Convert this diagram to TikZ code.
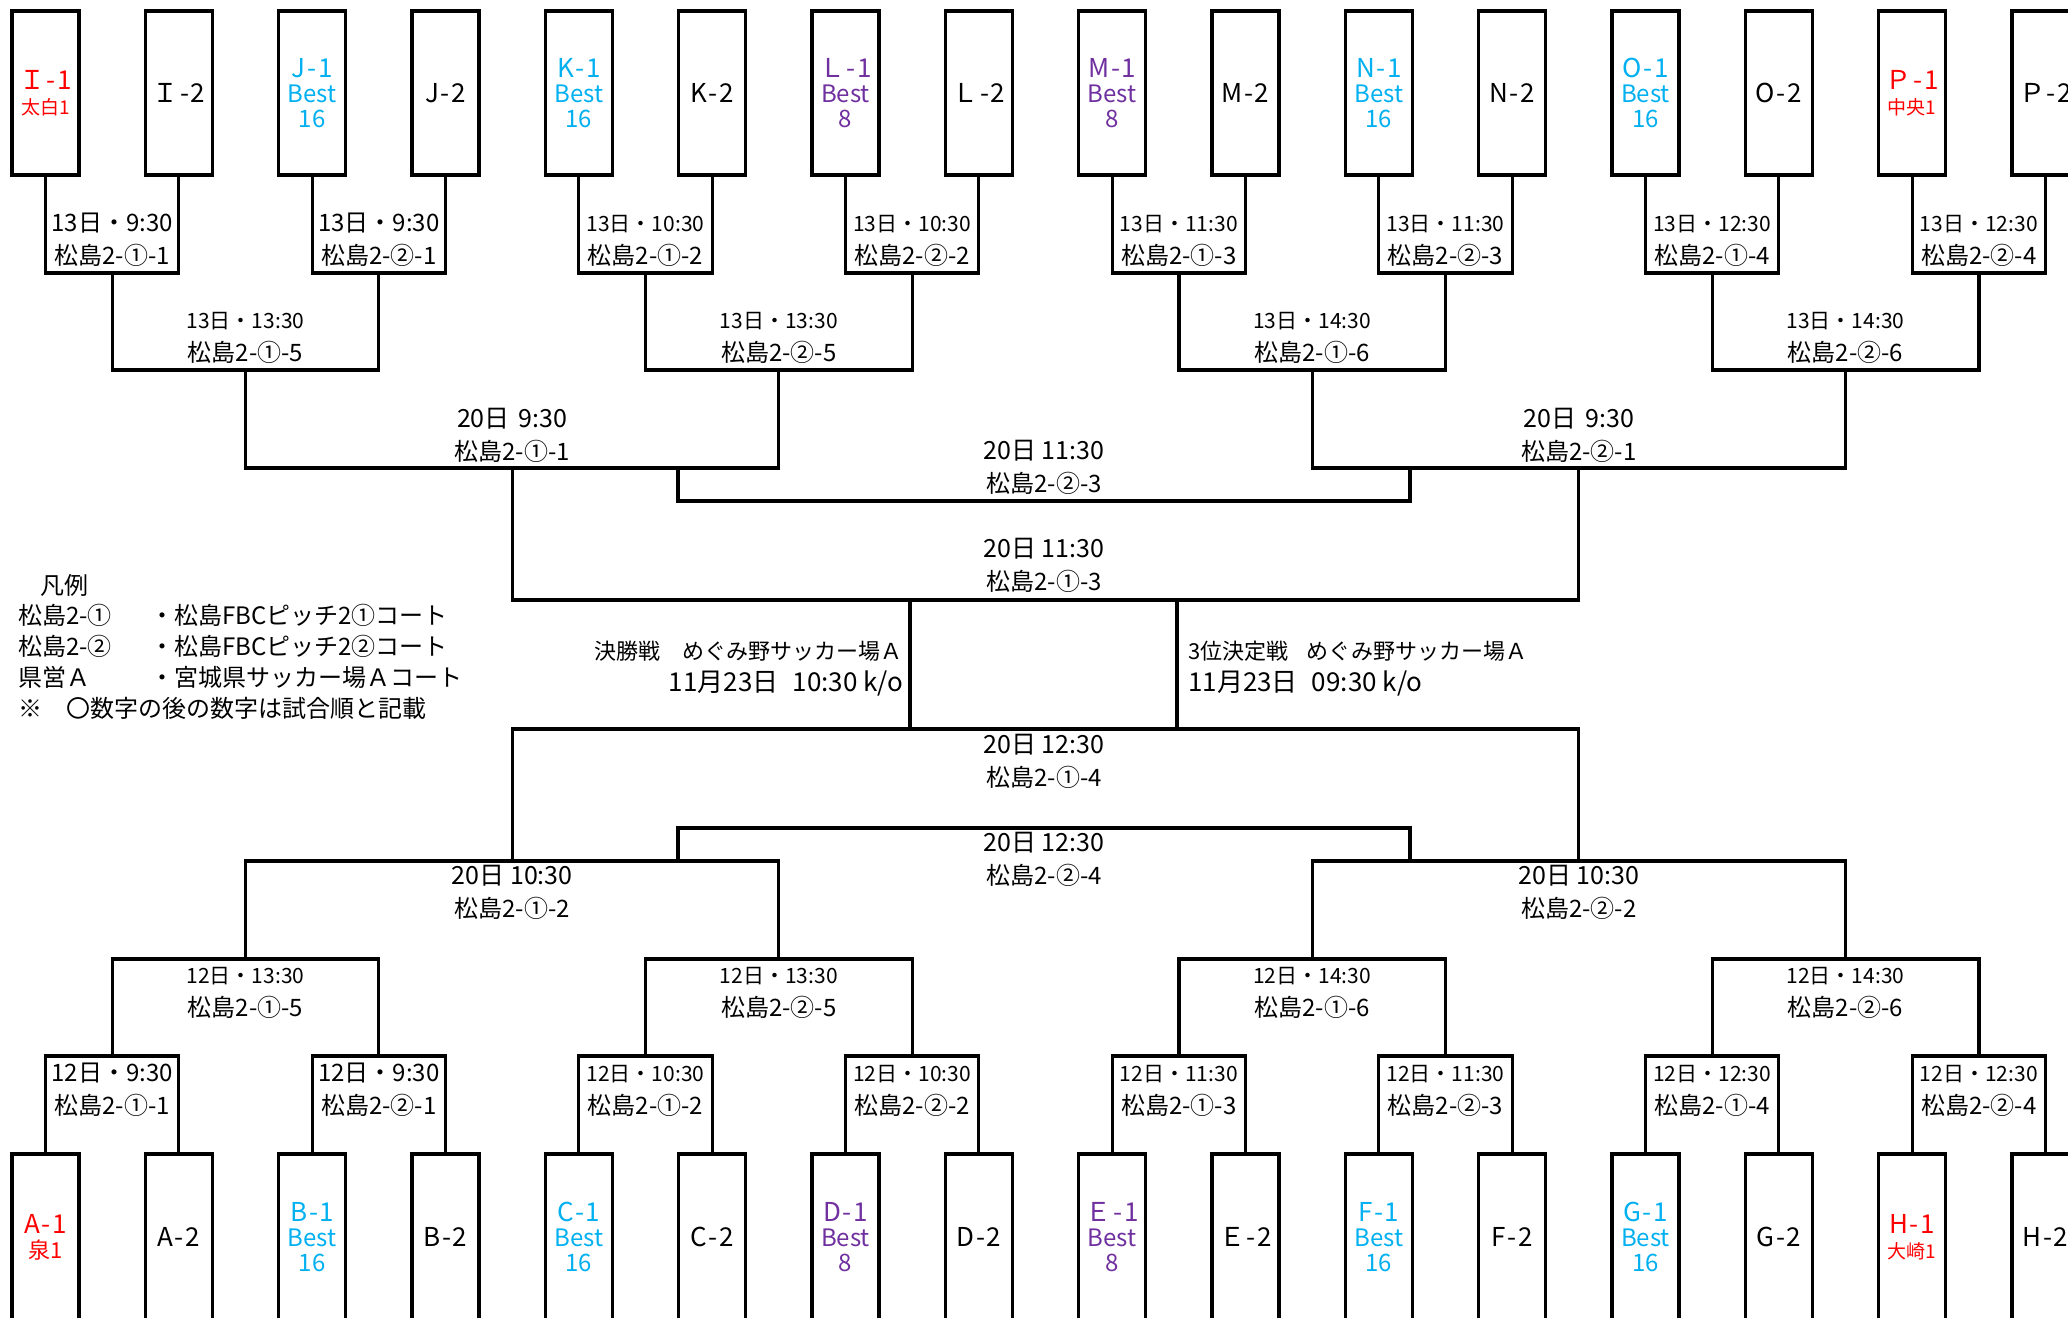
\documentclass[tikz,border=0pt]{standalone}
\usepackage{fontspec}
\setmainfont{Noto Sans CJK JP}
\definecolor{tred}{HTML}{FF0000}
\definecolor{tcyan}{HTML}{00B0F0}
\definecolor{tpurple}{HTML}{7030A0}
\newcommand\myfs[2]{\fontsize{#1}{#2}\selectfont}
\newcommand\hy{\kern1.6pt-\kern1.6pt}
\newcommand\idl[1]{{\myfs{26}{25}#1}}
\newcommand\matchlab[6]{% name, x, baseline, size of line 1, text1, text2
  \node[lab, font=\myfs{#4}{#4}] (#1a) at (#2,#3) {#5};
  \node[lab] (#1b) at (#2,#3+33) {#6};}
\begin{document}
\begin{tikzpicture}[x=1pt,y=-1pt,
  box/.style={draw, line width=3.3pt, minimum width=67pt, minimum height=164pt, inner sep=0pt, align=center, font=\myfs{24}{25}},
  bbox/.style={box, minimum height=166pt},
  rtx/.style={text=tred},
  ctx/.style={text=tcyan},
  ptx/.style={text=tpurple},
  wire/.style={line width=3.3pt, line join=miter},
  lab/.style={inner sep=0pt, anchor=base, font=\myfs{24}{24}},
  leg/.style={inner sep=0pt, anchor=base west, font=\myfs{24}{24}},
  fin/.style={inner sep=0pt, font=\myfs{22}{22}},
  fin2/.style={inner sep=0pt, font=\myfs{26}{26}}]
\useasboundingbox (0,0) rectangle (2068,1317);
\fill[white] (0,0) rectangle (2068,1317);
% ---------- top boxes ----------
\node[box,rtx] (t0) at (45.5,93) {\idl{Ｉ\hy 1}\\{\myfs{19}{25}太白1}};
\node[box] (t1) at (178.8,93) {\idl{Ｉ\hy 2}};
\node[box,ctx] (t2) at (312.2,93) {\idl{J\hy 1}\\Best\\16};
\node[box] (t3) at (445.5,93) {\idl{J\hy 2}};
\node[box,ctx] (t4) at (578.8,93) {\idl{K\hy 1}\\Best\\16};
\node[box] (t5) at (712.2,93) {\idl{K\hy 2}};
\node[box,ptx] (t6) at (845.5,93) {\idl{Ｌ\hy 1}\\Best\\8};
\node[box] (t7) at (978.8,93) {\idl{Ｌ\hy 2}};
\node[box,ptx] (t8) at (1112.2,93) {\idl{M\hy 1}\\Best\\8};
\node[box] (t9) at (1245.5,93) {\idl{M\hy 2}};
\node[box,ctx] (t10) at (1378.8,93) {\idl{N\hy 1}\\Best\\16};
\node[box] (t11) at (1512.2,93) {\idl{N\hy 2}};
\node[box,ctx] (t12) at (1645.5,93) {\idl{O\hy 1}\\Best\\16};
\node[box] (t13) at (1778.8,93) {\idl{O\hy 2}};
\node[box,rtx] (t14) at (1912.2,93) {\idl{Ｐ\hy 1}\\{\myfs{19}{25}中央1}};
\node[box] (t15) at (2045.5,93) {\idl{Ｐ\hy 2}};
% ---------- bottom boxes ----------
\node[bbox,rtx] (b0) at (45.5,1237) {\idl{A\hy 1}\\{\myfs{22}{25}泉1}};
\node[bbox] (b1) at (178.8,1237) {\idl{A\hy 2}};
\node[bbox,ctx] (b2) at (312.2,1237) {\idl{B\hy 1}\\Best\\16};
\node[bbox] (b3) at (445.5,1237) {\idl{B\hy 2}};
\node[bbox,ctx] (b4) at (578.8,1237) {\idl{C\hy 1}\\Best\\16};
\node[bbox] (b5) at (712.2,1237) {\idl{C\hy 2}};
\node[bbox,ptx] (b6) at (845.5,1237) {\idl{D\hy 1}\\Best\\8};
\node[bbox] (b7) at (978.8,1237) {\idl{D\hy 2}};
\node[bbox,ptx] (b8) at (1112.2,1237) {\idl{Ｅ\hy 1}\\Best\\8};
\node[bbox] (b9) at (1245.5,1237) {\idl{Ｅ\hy 2}};
\node[bbox,ctx] (b10) at (1378.8,1237) {\idl{F\hy 1}\\Best\\16};
\node[bbox] (b11) at (1512.2,1237) {\idl{F\hy 2}};
\node[bbox,ctx] (b12) at (1645.5,1237) {\idl{G\hy 1}\\Best\\16};
\node[bbox] (b13) at (1778.8,1237) {\idl{G\hy 2}};
\node[bbox,rtx] (b14) at (1912.2,1237) {\idl{H\hy 1}\\{\myfs{19}{25}大崎1}};
\node[bbox] (b15) at (2045.5,1237) {\idl{H\hy 2}};
% ---------- junction coordinates ----------
\foreach \k in {0,...,7} {
  \coordinate (ta\k) at (112.17+266.667*\k,273);
  \coordinate (ba\k) at (112.17+266.667*\k,1056);
}
\foreach \k in {0,...,3} {
  \coordinate (tb\k) at (245.5+533.333*\k,370);
  \coordinate (bb\k) at (245.5+533.333*\k,959);
}
\coordinate (tc0) at (512.2,468);  \coordinate (tc1) at (1578.8,468);
\coordinate (bc0) at (512.2,861);  \coordinate (bc1) at (1578.8,861);
\coordinate (td) at (1045.5,600);  \coordinate (bd) at (1045.5,729);
\coordinate (t3l) at (678,468);    \coordinate (t3r) at (1410,468);  \coordinate (t3m) at (1044,501);
\coordinate (b3l) at (678,861);    \coordinate (b3r) at (1410,861);  \coordinate (b3m) at (1044,828);
\coordinate (fa) at (910,600);     \coordinate (fb) at (910,729);
\coordinate (ga) at (1177,600);    \coordinate (gb) at (1177,729);
% ---------- wires ----------
\foreach \k in {0,...,7} {
  \pgfmathtruncatemacro\ka{2*\k}
  \pgfmathtruncatemacro\kb{2*\k+1}
  \draw[wire] (t\ka.south) |- (ta\k) -| (t\kb.south);
  \draw[wire] (b\ka.north) |- (ba\k) -| (b\kb.north);
}
\foreach \k in {0,...,3} {
  \pgfmathtruncatemacro\ka{2*\k}
  \pgfmathtruncatemacro\kb{2*\k+1}
  \draw[wire] (ta\ka) |- (tb\k) -| (ta\kb);
  \draw[wire] (ba\ka) |- (bb\k) -| (ba\kb);
}
\draw[wire] (tb0) |- (tc0) -| (tb1);
\draw[wire] (tb2) |- (tc1) -| (tb3);
\draw[wire] (bb0) |- (bc0) -| (bb1);
\draw[wire] (bb2) |- (bc1) -| (bb3);
\draw[wire] (tc0) |- (td) -| (tc1);
\draw[wire] (bc0) |- (bd) -| (bc1);
\draw[wire] (t3l) |- (t3m) -| (t3r);
\draw[wire] (b3l) |- (b3m) -| (b3r);
\draw[wire] (fa) -- (fb);
\draw[wire] (ga) -- (gb);
% ---------- match labels, top ----------
\matchlab{lt0}{112.2}{231}{24}{13日・9:30}{松島2-①-1}
\matchlab{lt1}{378.8}{231}{24}{13日・9:30}{松島2-②-1}
\matchlab{lt2}{645.5}{231}{21}{13日・10:30}{松島2-①-2}
\matchlab{lt3}{912.2}{231}{21}{13日・10:30}{松島2-②-2}
\matchlab{lt4}{1178.8}{231}{21}{13日・11:30}{松島2-①-3}
\matchlab{lt5}{1445.5}{231}{21}{13日・11:30}{松島2-②-3}
\matchlab{lt6}{1712.2}{231}{21}{13日・12:30}{松島2-①-4}
\matchlab{lt7}{1978.8}{231}{21}{13日・12:30}{松島2-②-4}
\matchlab{lu0}{245.5}{328}{21}{13日・13:30}{松島2-①-5}
\matchlab{lu1}{778.8}{328}{21}{13日・13:30}{松島2-②-5}
\matchlab{lu2}{1312.2}{328}{21}{13日・14:30}{松島2-①-6}
\matchlab{lu3}{1845.5}{328}{21}{13日・14:30}{松島2-②-6}
\matchlab{lv0}{512.2}{427}{25}{20日\hspace{9pt}9:30}{松島2-①-1}
\matchlab{lv1}{1578.8}{427}{25}{20日\hspace{9pt}9:30}{松島2-②-1}
\matchlab{lw0}{1044}{459}{25}{20日 11:30}{松島2-②-3}
\matchlab{lx0}{1044}{557}{25}{20日 11:30}{松島2-①-3}
% ---------- match labels, bottom ----------
\matchlab{mx0}{1044}{753}{25}{20日 12:30}{松島2-①-4}
\matchlab{mw0}{1044}{851}{25}{20日 12:30}{松島2-②-4}
\matchlab{mv0}{512.2}{884}{25}{20日 10:30}{松島2-①-2}
\matchlab{mv1}{1578.8}{884}{25}{20日 10:30}{松島2-②-2}
\matchlab{mu0}{245.5}{983}{21}{12日・13:30}{松島2-①-5}
\matchlab{mu1}{778.8}{983}{21}{12日・13:30}{松島2-②-5}
\matchlab{mu2}{1312.2}{983}{21}{12日・14:30}{松島2-①-6}
\matchlab{mu3}{1845.5}{983}{21}{12日・14:30}{松島2-②-6}
\matchlab{mt0}{112.2}{1081}{24}{12日・9:30}{松島2-①-1}
\matchlab{mt1}{378.8}{1081}{24}{12日・9:30}{松島2-②-1}
\matchlab{mt2}{645.5}{1081}{21}{12日・10:30}{松島2-①-2}
\matchlab{mt3}{912.2}{1081}{21}{12日・10:30}{松島2-②-2}
\matchlab{mt4}{1178.8}{1081}{21}{12日・11:30}{松島2-①-3}
\matchlab{mt5}{1445.5}{1081}{21}{12日・11:30}{松島2-②-3}
\matchlab{mt6}{1712.2}{1081}{21}{12日・12:30}{松島2-①-4}
\matchlab{mt7}{1978.8}{1081}{21}{12日・12:30}{松島2-②-4}
% ---------- final / 3rd place ----------
\node[fin, anchor=base east] (f1) at (903,659) {決勝戦　めぐみ野サッカー場Ａ};
\node[fin2, anchor=base east] (f2) at (903,691) {11月23日\hspace{14pt}10:30 k/o};
\node[fin, anchor=base west] (g1) at (1188,659) {3位決定戦\hspace{18pt}めぐみ野サッカー場Ａ};
\node[fin2, anchor=base west] (g2) at (1188,691) {11月23日\hspace{14pt}09:30 k/o};
% ---------- legend ----------
\node[leg] (lg0) at (40,594) {凡例};
\node[leg] (lg1) at (18,624) {松島2-①};
\node[leg] (lg1b) at (150,624) {・松島FBCピッチ2①コート};
\node[leg] (lg2) at (18,655) {松島2-②};
\node[leg] (lg2b) at (150,655) {・松島FBCピッチ2②コート};
\node[leg] (lg3) at (18,686) {県営Ａ};
\node[leg] (lg3b) at (150,686) {・宮城県サッカー場Ａコート};
\node[leg] (lg4) at (18,717) {※　〇数字の後の数字は試合順と記載};
\end{tikzpicture}
\end{document}
